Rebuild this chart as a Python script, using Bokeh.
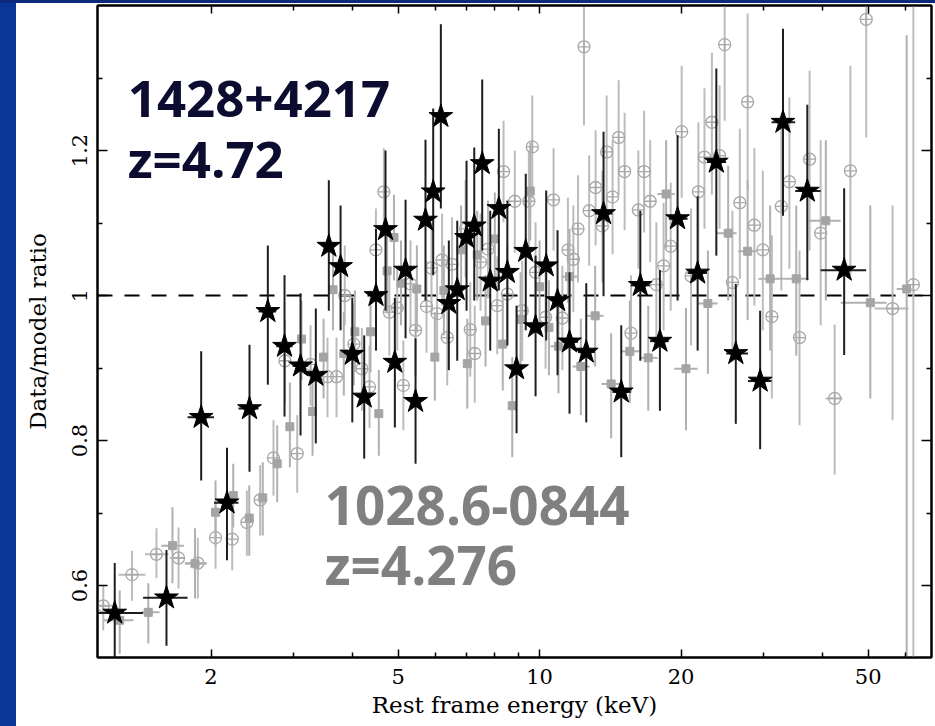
from bokeh.plotting import figure
from bokeh.models import Range1d, FixedTicker, NumeralTickFormatter, LogAxis, LinearAxis, Span, Div, Label
from bokeh.layouts import row, column
from bokeh.embed import file_html
from bokeh.resources import INLINE

# ---------------- data ----------------
# 1428+4217 (black stars): energies (keV), ratio, ratio lower/upper, energy bin edges
star_x = [1.248, 1.608, 1.906, 2.163, 2.415, 2.642, 2.867, 3.101, 3.342, 3.562, 3.773, 3.996,
          4.236, 4.488, 4.702, 4.922, 5.187, 5.447, 5.719, 5.939, 6.166, 6.412, 6.681, 6.993,
          7.262, 7.551, 7.853, 8.192, 8.54, 8.934, 9.346, 9.806, 10.33, 10.92, 11.58, 12.57,
          13.68, 14.92, 16.38, 18.03, 19.66, 21.69, 23.77, 26.15, 29.46, 32.95, 37.12, 44.46]
star_y = [0.562, 0.583, 0.832, 0.714, 0.844, 0.978, 0.930, 0.903, 0.890, 1.068, 1.040, 0.919,
          0.860, 1.000, 1.091, 0.908, 1.035, 0.854, 1.104, 1.143, 1.247, 0.989, 1.008, 1.080,
          1.096, 1.182, 1.020, 1.120, 1.032, 0.899, 1.061, 0.957, 1.041, 0.993, 0.936, 0.922,
          1.113, 0.867, 1.014, 0.937, 1.106, 1.031, 1.184, 0.920, 0.882, 1.239, 1.144, 1.035]
star_lo = [0.501, 0.517, 0.745, 0.635, 0.757, 0.877, 0.833, 0.807, 0.796, 0.979, 0.952, 0.825,
           0.775, 0.924, 0.979, 0.818, 0.941, 0.768, 0.993, 1.028, 1.120, 0.897, 0.910, 0.979,
           0.993, 1.062, 0.924, 1.007, 0.931, 0.810, 0.952, 0.861, 0.938, 0.890, 0.837, 0.825,
           0.999, 0.777, 0.910, 0.841, 0.993, 0.924, 1.055, 0.823, 0.788, 1.110, 1.021, 0.918]
star_hi = [0.631, 0.649, 0.923, 0.790, 0.932, 1.069, 1.028, 1.003, 0.982, 1.159, 1.124, 0.997,
           0.945, 1.092, 1.200, 0.997, 1.132, 0.941, 1.215, 1.258, 1.374, 1.076, 1.103, 1.186,
           1.204, 1.298, 1.117, 1.230, 1.131, 0.986, 1.168, 1.055, 1.145, 1.090, 1.032, 1.017,
           1.226, 0.959, 1.117, 1.035, 1.221, 1.137, 1.313, 1.016, 0.979, 1.368, 1.263, 1.148]
star_edges = [1.145, 1.434, 1.783, 2.030, 2.288, 2.524, 2.753, 2.982, 3.221, 3.451, 3.667, 3.882,
              4.116, 4.362, 4.595, 4.811, 5.053, 5.315, 5.583, 5.832, 6.053, 6.289, 6.546, 6.838,
              7.129, 7.405, 7.701, 8.020, 8.367, 8.736, 9.138, 9.574, 10.07, 10.63, 11.25, 12.07,
              13.12, 14.29, 15.63, 17.18, 18.83, 20.65, 22.71, 24.94, 27.76, 31.15, 34.98, 39.62, 49.53]

# 1028.6-0844, first data set (grey filled squares)
sq_x = [1.279, 1.471, 1.656, 1.849, 2.045, 2.230, 2.412, 2.577, 2.766, 2.943, 3.116, 3.289,
        3.471, 3.636, 3.833, 4.046, 4.369, 4.550, 4.738, 4.902, 5.073, 5.483, 5.987, 6.258,
        6.808, 7.018, 7.369, 7.675, 8.032, 8.350, 8.748, 9.111, 9.555, 10.00, 10.47, 10.97,
        11.58, 12.24, 13.13, 14.20, 15.56, 17.03, 18.59, 20.49, 22.81, 25.19, 27.71, 30.94,
        35.16, 40.64, 50.53, 60.39]
sq_y = [0.552, 0.563, 0.655, 0.630, 0.701, 0.724, 0.693, 0.721, 0.768, 0.819, 0.940, 0.840,
        0.915, 1.008, 0.920, 0.950, 0.950, 0.837, 1.034, 1.080, 1.017, 1.009, 0.915, 1.007,
        1.063, 0.906, 1.056, 0.965, 1.078, 0.933, 0.848, 0.967, 1.144, 1.012, 0.956, 0.930,
        1.026, 0.902, 0.972, 0.878, 0.923, 0.914, 1.140, 0.899, 0.989, 1.086, 1.061, 1.023,
        1.023, 1.103, 0.990, 1.009]
sq_lo = [0.506, 0.520, 0.603, 0.582, 0.655, 0.680, 0.641, 0.669, 0.715, 0.763, 0.883, 0.779,
         0.858, 0.952, 0.862, 0.894, 0.894, 0.779, 0.975, 1.021, 0.959, 0.949, 0.855, 0.945,
         1.003, 0.844, 0.993, 0.902, 1.014, 0.869, 0.777, 0.902, 1.076, 0.948, 0.890, 0.865,
         0.959, 0.835, 0.902, 0.803, 0.852, 0.841, 1.065, 0.814, 0.892, 0.993, 0.966, 0.924,
         0.917, 0.993, 0.858, 0.490]
sq_hi = [0.593, 0.603, 0.708, 0.679, 0.745, 0.768, 0.738, 0.770, 0.821, 0.880, 0.993, 0.897,
         0.968, 1.062, 0.977, 1.007, 1.007, 0.897, 1.092, 1.139, 1.076, 1.069, 0.977, 1.069,
         1.124, 0.968, 1.117, 1.028, 1.142, 0.997, 0.915, 1.032, 1.211, 1.076, 1.021, 0.996,
         1.092, 0.968, 1.041, 0.948, 0.993, 0.986, 1.214, 0.983, 1.062, 1.179, 1.159, 1.124,
         1.124, 1.214, 1.124, 1.359]
sq_xbar_idx = [0, 1, 2, 3, 35, 36, 37, 38, 39, 40, 41, 42, 43, 44, 45, 46, 47, 48, 49, 50, 51]
sq_xbar_lo = [1.181, 1.423, 1.569, 1.760, 10.55, 11.14, 11.75, 12.59, 13.55, 14.87, 16.32, 17.80,
              19.34, 21.69, 23.77, 26.46, 29.21, 33.05, 37.36, 43.70, 57.50]
sq_xbar_hi = [1.368, 1.554, 1.751, 1.957, 11.41, 12.05, 12.78, 13.68, 14.87, 16.32, 17.83, 19.38,
              21.69, 23.92, 26.25, 28.96, 33.05, 37.36, 43.70, 54.75, 61.86]

# 1028.6-0844, second data set (light grey open circles with cross)
ci_x = [1.180, 1.358, 1.531, 1.706, 1.875, 2.045, 2.219, 2.384, 2.544, 2.716,
        3.051, 2.873, 3.257, 3.539, 3.699, 3.851, 4.027, 4.188, 4.348, 4.486,
        4.664, 4.791, 4.980, 5.131, 5.315, 5.447, 5.748, 5.890, 6.053, 6.203,
        6.362, 6.513, 6.959, 7.121, 7.279, 7.489, 7.768, 8.128, 8.383, 8.537,
        8.857, 9.187, 9.489, 9.649, 9.806, 10.30, 10.71, 11.18, 11.49, 11.80,
        12.07, 12.43, 12.75, 13.16, 13.60, 13.89, 14.30, 14.73, 15.17, 15.65,
        16.22, 16.69, 17.19, 17.72, 18.36, 19.01, 20.06, 21.00, 21.77, 22.43,
        23.26, 24.15, 24.76, 25.72, 26.67, 27.71, 28.64, 29.85, 31.20, 32.68,
        34.00, 35.73, 37.54, 39.63, 42.44, 45.84, 49.53, 56.35, 62.41]
ci_y = [0.572, 0.615, 0.643, 0.638, 0.631, 0.666, 0.664, 0.687, 0.718, 0.776,
        0.782, 0.910, 0.905, 0.888, 0.888, 1.000, 0.933, 0.899, 0.874, 1.063,
        1.143, 0.977, 0.983, 0.876, 1.016, 0.952, 0.985, 1.038, 0.975, 1.049,
        0.942, 1.043, 1.092, 0.953, 0.920, 1.046, 1.064, 0.986, 1.171, 1.002,
        1.130, 0.979, 1.130, 1.205, 1.032, 0.970, 1.132, 0.969, 1.063, 1.050,
        1.092, 1.343, 1.117, 1.149, 1.096, 1.198, 1.136, 1.218, 1.171, 0.948,
        1.118, 1.171, 1.130, 1.015, 1.041, 1.068, 1.226, 1.027, 1.143, 1.191,
        1.239, 1.193, 1.346, 1.018, 1.128, 1.267, 1.097, 1.063, 0.971, 1.123,
        1.157, 0.942, 1.188, 1.086, 0.858, 1.172, 1.381, 0.982, 1.015]
ci_lo = [0.538, 0.579, 0.610, 0.596, 0.582, 0.623, 0.621, 0.641, 0.669, 0.724,
         0.728, 0.852, 0.848, 0.832, 0.832, 0.959, 0.876, 0.841, 0.817, 1.004,
         1.083, 0.917, 0.924, 0.814, 0.956, 0.890, 0.921, 0.975, 0.913, 0.986,
         0.876, 0.979, 1.025, 0.888, 0.852, 0.979, 0.996, 0.919, 1.101, 0.935,
         1.059, 0.910, 1.059, 1.134, 0.963, 0.899, 1.062, 0.897, 0.990, 0.977,
         1.018, 1.235, 1.041, 1.069, 1.018, 1.117, 1.057, 1.138, 1.090, 0.866,
         1.037, 1.087, 1.046, 0.930, 0.952, 0.979, 1.135, 0.931, 1.046, 1.092,
         1.139, 1.092, 1.241, 0.913, 1.023, 1.145, 0.986, 0.952, 0.858, 1.007,
         1.037, 0.821, 1.062, 0.959, 0.753, 1.028, 1.218, 0.828, 0.490]
ci_hi = [0.600, 0.648, 0.679, 0.680, 0.666, 0.710, 0.710, 0.731, 0.766, 0.828,
         0.835, 0.966, 0.959, 0.942, 0.942, 1.069, 0.989, 0.955, 0.931, 1.120,
         1.203, 1.035, 1.041, 0.938, 1.076, 1.014, 1.048, 1.101, 1.037, 1.113,
         1.007, 1.108, 1.159, 1.018, 0.986, 1.113, 1.131, 1.054, 1.241, 1.069,
         1.200, 1.048, 1.200, 1.276, 1.101, 1.040, 1.203, 1.041, 1.135, 1.124,
         1.166, 1.398, 1.193, 1.228, 1.172, 1.276, 1.214, 1.297, 1.252, 1.028,
         1.200, 1.255, 1.214, 1.101, 1.128, 1.156, 1.317, 1.120, 1.239, 1.286,
         1.335, 1.290, 1.400, 1.117, 1.230, 1.389, 1.203, 1.172, 1.083, 1.235,
         1.273, 1.062, 1.310, 1.214, 0.960, 1.317, 1.400, 1.124, 1.400]
ci_xbar_idx = [0, 1, 2, 3, 4, 84, 87]
ci_xbar_lo = [1.145, 1.271, 1.448, 1.634, 1.760, 40.60, 51.60]
ci_xbar_hi = [1.235, 1.451, 1.625, 1.760, 1.957, 44.13, 60.97]

x_major = [2, 5, 10, 20, 50]
x_minor = [3, 4, 6, 7, 8, 9, 30, 40, 60]
y_major = [0.6, 0.8, 1.0, 1.2]
y_minor = [0.5, 0.7, 0.9, 1.1, 1.3]

label_top = ["1428+4217", "z=4.72"]
label_bottom = ["1028.6-0844", "z=4.276"]

# ---------------- figure ----------------
p = figure(width=919, height=723, x_axis_type="log",
           x_range=Range1d(1.147, 68.2), y_range=Range1d(0.5007, 1.4),
           output_backend="svg", toolbar_location=None,
           min_border_left=81, min_border_right=4, min_border_top=2, min_border_bottom=69,
           background_fill_color="white", border_fill_color="white",
           outline_line_color="black", outline_line_width=2)
p.grid.visible = False


def style_axis(ax, major_len, labels):
    ax.axis_line_color = "black"
    ax.axis_line_width = 2
    ax.major_tick_in = major_len
    ax.major_tick_out = 0
    ax.minor_tick_in = 5
    ax.minor_tick_out = 0
    ax.major_tick_line_color = "black"
    ax.minor_tick_line_color = "black"
    ax.major_tick_line_width = 1.5
    ax.minor_tick_line_width = 1.5
    if labels:
        ax.major_label_text_font = "DejaVu Serif"
        ax.major_label_text_font_size = "21px"
        ax.major_label_text_color = "black"
        ax.axis_label_text_font = "DejaVu Serif"
        ax.axis_label_text_font_size = "23px"
        ax.axis_label_text_font_style = "normal"
        ax.axis_label_text_color = "black"
    else:
        ax.major_label_text_color = None
        ax.major_label_standoff = 0


xa = p.xaxis[0]
xa.ticker = FixedTicker(ticks=x_major, minor_ticks=x_minor)
xa.formatter = NumeralTickFormatter(format="0")
style_axis(xa, 8, True)
xa.axis_label = "Rest frame energy (keV)"
xa.major_label_standoff = 11
xa.axis_label_standoff = 5

ya = p.yaxis[0]
ya.ticker = FixedTicker(ticks=y_major, minor_ticks=y_minor)
ya.formatter = NumeralTickFormatter(format="0.[0]")
style_axis(ya, 10, True)
ya.axis_label = "Data/model ratio"
ya.major_label_orientation = "vertical"
ya.major_label_standoff = 10
ya.axis_label_standoff = 19

top = LogAxis(ticker=FixedTicker(ticks=x_major, minor_ticks=x_minor))
style_axis(top, 8, False)
p.add_layout(top, "above")
right = LinearAxis(ticker=FixedTicker(ticks=y_major, minor_ticks=y_minor))
style_axis(right, 10, False)
p.add_layout(right, "right")

# reference line
p.add_layout(Span(location=1.0, dimension="width", line_color="black", line_width=2,
                  line_dash="15 12", level="underlay"))

# circles (lightest)
ci_col = "#bcbcbc"
p.segment(x0=ci_x, y0=ci_lo, x1=ci_x, y1=ci_hi, line_color=ci_col, line_width=2)
p.segment(x0=ci_xbar_lo, y0=[ci_y[i] for i in ci_xbar_idx], x1=ci_xbar_hi,
          y1=[ci_y[i] for i in ci_xbar_idx], line_color=ci_col, line_width=2)
p.scatter(ci_x, ci_y, marker="circle_cross", size=12, fill_color="white", fill_alpha=0.0,
          line_color="#a8a8a8", line_width=1.3)

# squares
sq_col = "#b0b0b0"
p.segment(x0=sq_x, y0=sq_lo, x1=sq_x, y1=sq_hi, line_color=sq_col, line_width=2)
p.segment(x0=sq_xbar_lo, y0=[sq_y[i] for i in sq_xbar_idx], x1=sq_xbar_hi,
          y1=[sq_y[i] for i in sq_xbar_idx], line_color=sq_col, line_width=2)
p.scatter(sq_x, sq_y, marker="square", size=8, fill_color="#a4a4a4", line_color="#a4a4a4")

# stars
st_col = "#1e1e1e"
p.segment(x0=star_x, y0=star_lo, x1=star_x, y1=star_hi, line_color=st_col, line_width=2)
p.segment(x0=star_edges[:-1], y0=star_y, x1=star_edges[1:], y1=star_y,
          line_color=st_col, line_width=2)
p.scatter(star_x, star_y, marker="star", size=25, fill_color="black", line_color="black",
          line_width=1)

# annotations
for txt, yy in zip(label_top, [1.2711, 1.1902]):
    p.add_layout(Label(x=1.33, y=yy, text=txt, text_font="Open Sans", text_font_style="bold",
                       text_font_size="51px", text_color="#0c0c30", text_baseline="alphabetic"))
for txt, yy in zip(label_bottom, [0.7098, 0.6284]):
    p.add_layout(Label(x=3.49, y=yy, text=txt, text_font="Open Sans", text_font_style="bold",
                       text_font_size="53px", text_color="#808080", text_baseline="alphabetic"))

top_strip = Div(width=935, height=3, margin=(0, 0, 0, 0),
                styles={"background-color": "#0b2a7c"})
left_strip = Div(width=16, height=723, margin=(0, 0, 0, 0),
                 styles={"background-color": "#0a3599"})
layout = column(top_strip, row(left_strip, p, spacing=0), spacing=0)

open("out.html", "w").write(file_html(layout, INLINE))
